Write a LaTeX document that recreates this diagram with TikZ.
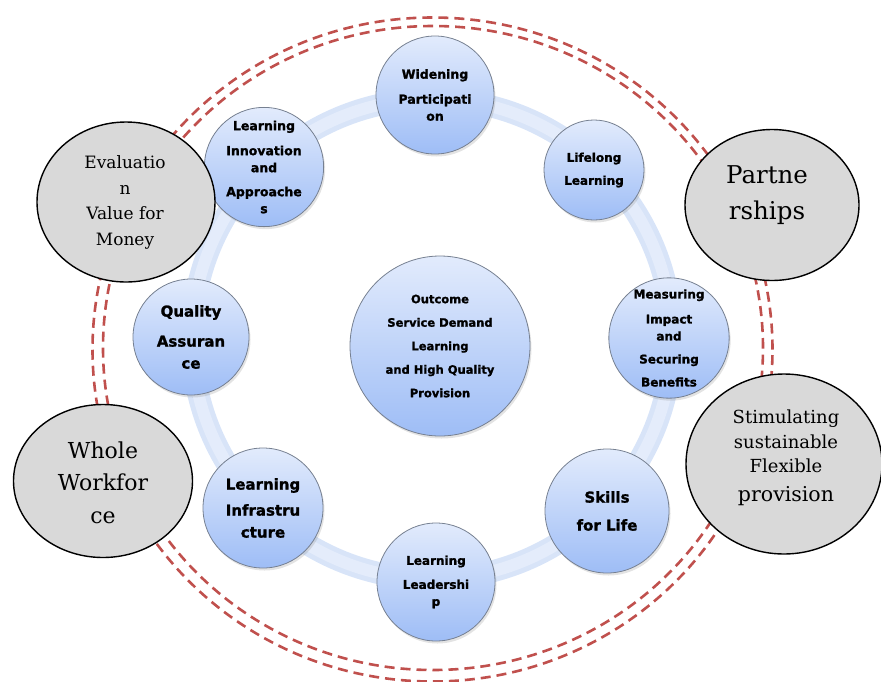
\documentclass[tikz,border=0pt]{standalone}
\usepackage{fontspec}
\newfontfamily\labelsans{DejaVu Sans Bold}[FakeBold=1.4]
\newfontfamily\labelserif{DejaVu Serif}
\usetikzlibrary{shapes.geometric,shadows}

\definecolor{dashred}{RGB}{192,80,77}
\definecolor{ringouter}{RGB}{216,228,248}
\definecolor{ringinner}{RGB}{228,236,251}
\definecolor{balltop}{RGB}{226,235,252}
\definecolor{ballbot}{RGB}{158,189,246}
\definecolor{ballrim}{RGB}{118,128,145}
\definecolor{discgray}{RGB}{217,217,217}

\tikzset{
  ball/.style={circle, draw=ballrim, line width=0.8pt, top color=balltop,
    bottom color=ballbot, inner sep=0pt, align=center,
    drop shadow={opacity=0.22, shadow xshift=1.5pt, shadow yshift=-2.5pt}},
  disc/.style={ellipse, draw=black, line width=1.4pt, fill=discgray, inner sep=0pt},
  disctext/.style={align=center, inner sep=0pt},
  dashring/.style={draw=dashred, line width=2.6pt, dash pattern=on 10pt off 6pt},
}

\begin{document}
\begin{tikzpicture}[x=1pt,y=-1pt]
\useasboundingbox (0,0) rectangle (881,681);

% band joining the eight satellite circles
\draw[ringouter, line width=22pt] (432,339) circle [radius=240pt];
\draw[ringinner, line width=12pt] (432,339) circle [radius=240pt];

% central circle
\node[ball, minimum size=180pt,
  font=\labelsans\fontsize{11.5}{23.5}\selectfont] (core) at (440,346)
  {Outcome\\Service Demand\\Learning\\and High Quality\\Provision};

% satellite circles
\node[ball, minimum size=118pt, font=\labelsans\fontsize{12.5}{17}\selectfont]
  (widening) at (435,95) {Widening\\[8pt]Participati\\on};
\node[ball, minimum size=100pt, font=\labelsans\fontsize{12}{17}\selectfont]
  (lifelong) at (594,170) {Lifelong\\[6pt]Learning};
\node[ball, minimum size=118pt, font=\labelsans\fontsize{12}{17}\selectfont]
  (measuring) at (669,338) {Measuring\\[8pt]Impact\\and\\[6pt]Securing\\[6pt]Benefits};
\node[ball, minimum size=124pt, font=\labelsans\fontsize{15}{20}\selectfont]
  (skills) at (607,511) {Skills\\[8pt]for Life};
\node[ball, minimum size=118pt, font=\labelsans\fontsize{12}{17}\selectfont]
  (leadership) at (436,582) {Learning\\[7pt]Leadershi\\p};
\node[ball, minimum size=120pt, font=\labelsans\fontsize{15}{22}\selectfont]
  (infra) at (263,508) {Learning\\[4pt]Infrastru\\cture};
\node[ball, minimum size=116pt, font=\labelsans\fontsize{15}{22}\selectfont]
  (quality) at (191,337) {Quality\\[8pt]Assuran\\ce};
\node[ball, minimum size=118pt, font=\labelsans\fontsize{12.5}{17}\selectfont]
  (innovation) at (264,167) {Learning\\[8pt]Innovation\\and\\[7pt]Approache\\s};

% double dashed boundary
\draw[dashring] (432.5,349.5) ellipse [x radius=340pt, y radius=332pt];
\draw[dashring] (433,348) ellipse [x radius=330pt, y radius=322pt];

% outer grey themes
\node[disc, minimum width=178pt, minimum height=160pt] (evaluation) at (126,202) {};
\node[disctext, font=\labelserif\fontsize{17}{25.7}\selectfont] (evaluation-text)
  at (125,202.5) {Evaluatio\\n\\Value for\\Money};

\node[disc, minimum width=174pt, minimum height=151pt] (partnerships) at (772,205) {};
\node[disctext, font=\labelserif\fontsize{24.5}{36}\selectfont] (partnerships-text)
  at (767,195) {Partne\\rships};

\node[disc, minimum width=179pt, minimum height=153pt] (workforce) at (103,481) {};
\node[disctext, font=\labelserif\fontsize{22}{32.5}\selectfont] (workforce-text)
  at (103,482.5) {Whole\\Workfor\\ce};

\node[disc, minimum width=196pt, minimum height=180pt] (stimulating) at (784,464) {};
\node[disctext, font=\labelserif\fontsize{18}{24.5}\selectfont] (stimulating-text)
  at (786,458) {Stimulating\\sustainable\\Flexible\\[4pt]{\fontsize{20.5}{24.5}\selectfont provision}};
\end{tikzpicture}
\end{document}
